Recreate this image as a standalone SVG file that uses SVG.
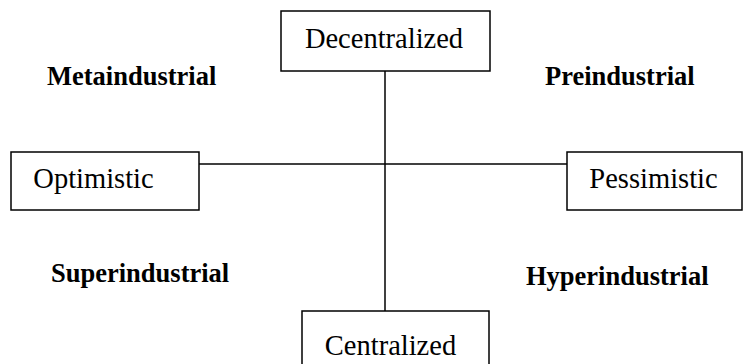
<svg xmlns="http://www.w3.org/2000/svg" width="743" height="364" viewBox="0 0 743 364">
<style>
.box{fill:#fff;stroke:#000;stroke-width:1.5}
.lbl{font-family:"Liberation Serif","Times New Roman",serif;font-size:28.5px;fill:#000;text-anchor:middle}
.q{font-family:"Liberation Serif","Times New Roman",serif;font-size:26.5px;font-weight:bold;fill:#000}
.ln{stroke:#000;stroke-width:1.5;fill:none}
</style>
<rect width="743" height="364" fill="#fff"/>
<g id="connectors">
<line class="ln" x1="385" y1="71" x2="385" y2="311"/>
<line class="ln" x1="199" y1="164" x2="567" y2="164"/>
</g>
<g id="decentralized"><rect class="box" x="281" y="11" width="209" height="60"/><text class="lbl" x="384" y="48">Decentralized</text></g>
<g id="optimistic"><rect class="box" x="11" y="152" width="188" height="58"/><text class="lbl" x="93.5" y="188">Optimistic</text></g>
<g id="pessimistic"><rect class="box" x="567" y="152" width="175" height="58"/><text class="lbl" x="653.5" y="188">Pessimistic</text></g>
<g id="centralized"><rect class="box" x="302" y="311" width="187" height="60"/><text class="lbl" x="390.5" y="355">Centralized</text></g>
<g id="quadrants">
<text class="q" x="47" y="85">Metaindustrial</text>
<text class="q" x="545" y="85">Preindustrial</text>
<text class="q" x="51" y="282">Superindustrial</text>
<text class="q" x="526" y="285">Hyperindustrial</text>
</g>
</svg>
